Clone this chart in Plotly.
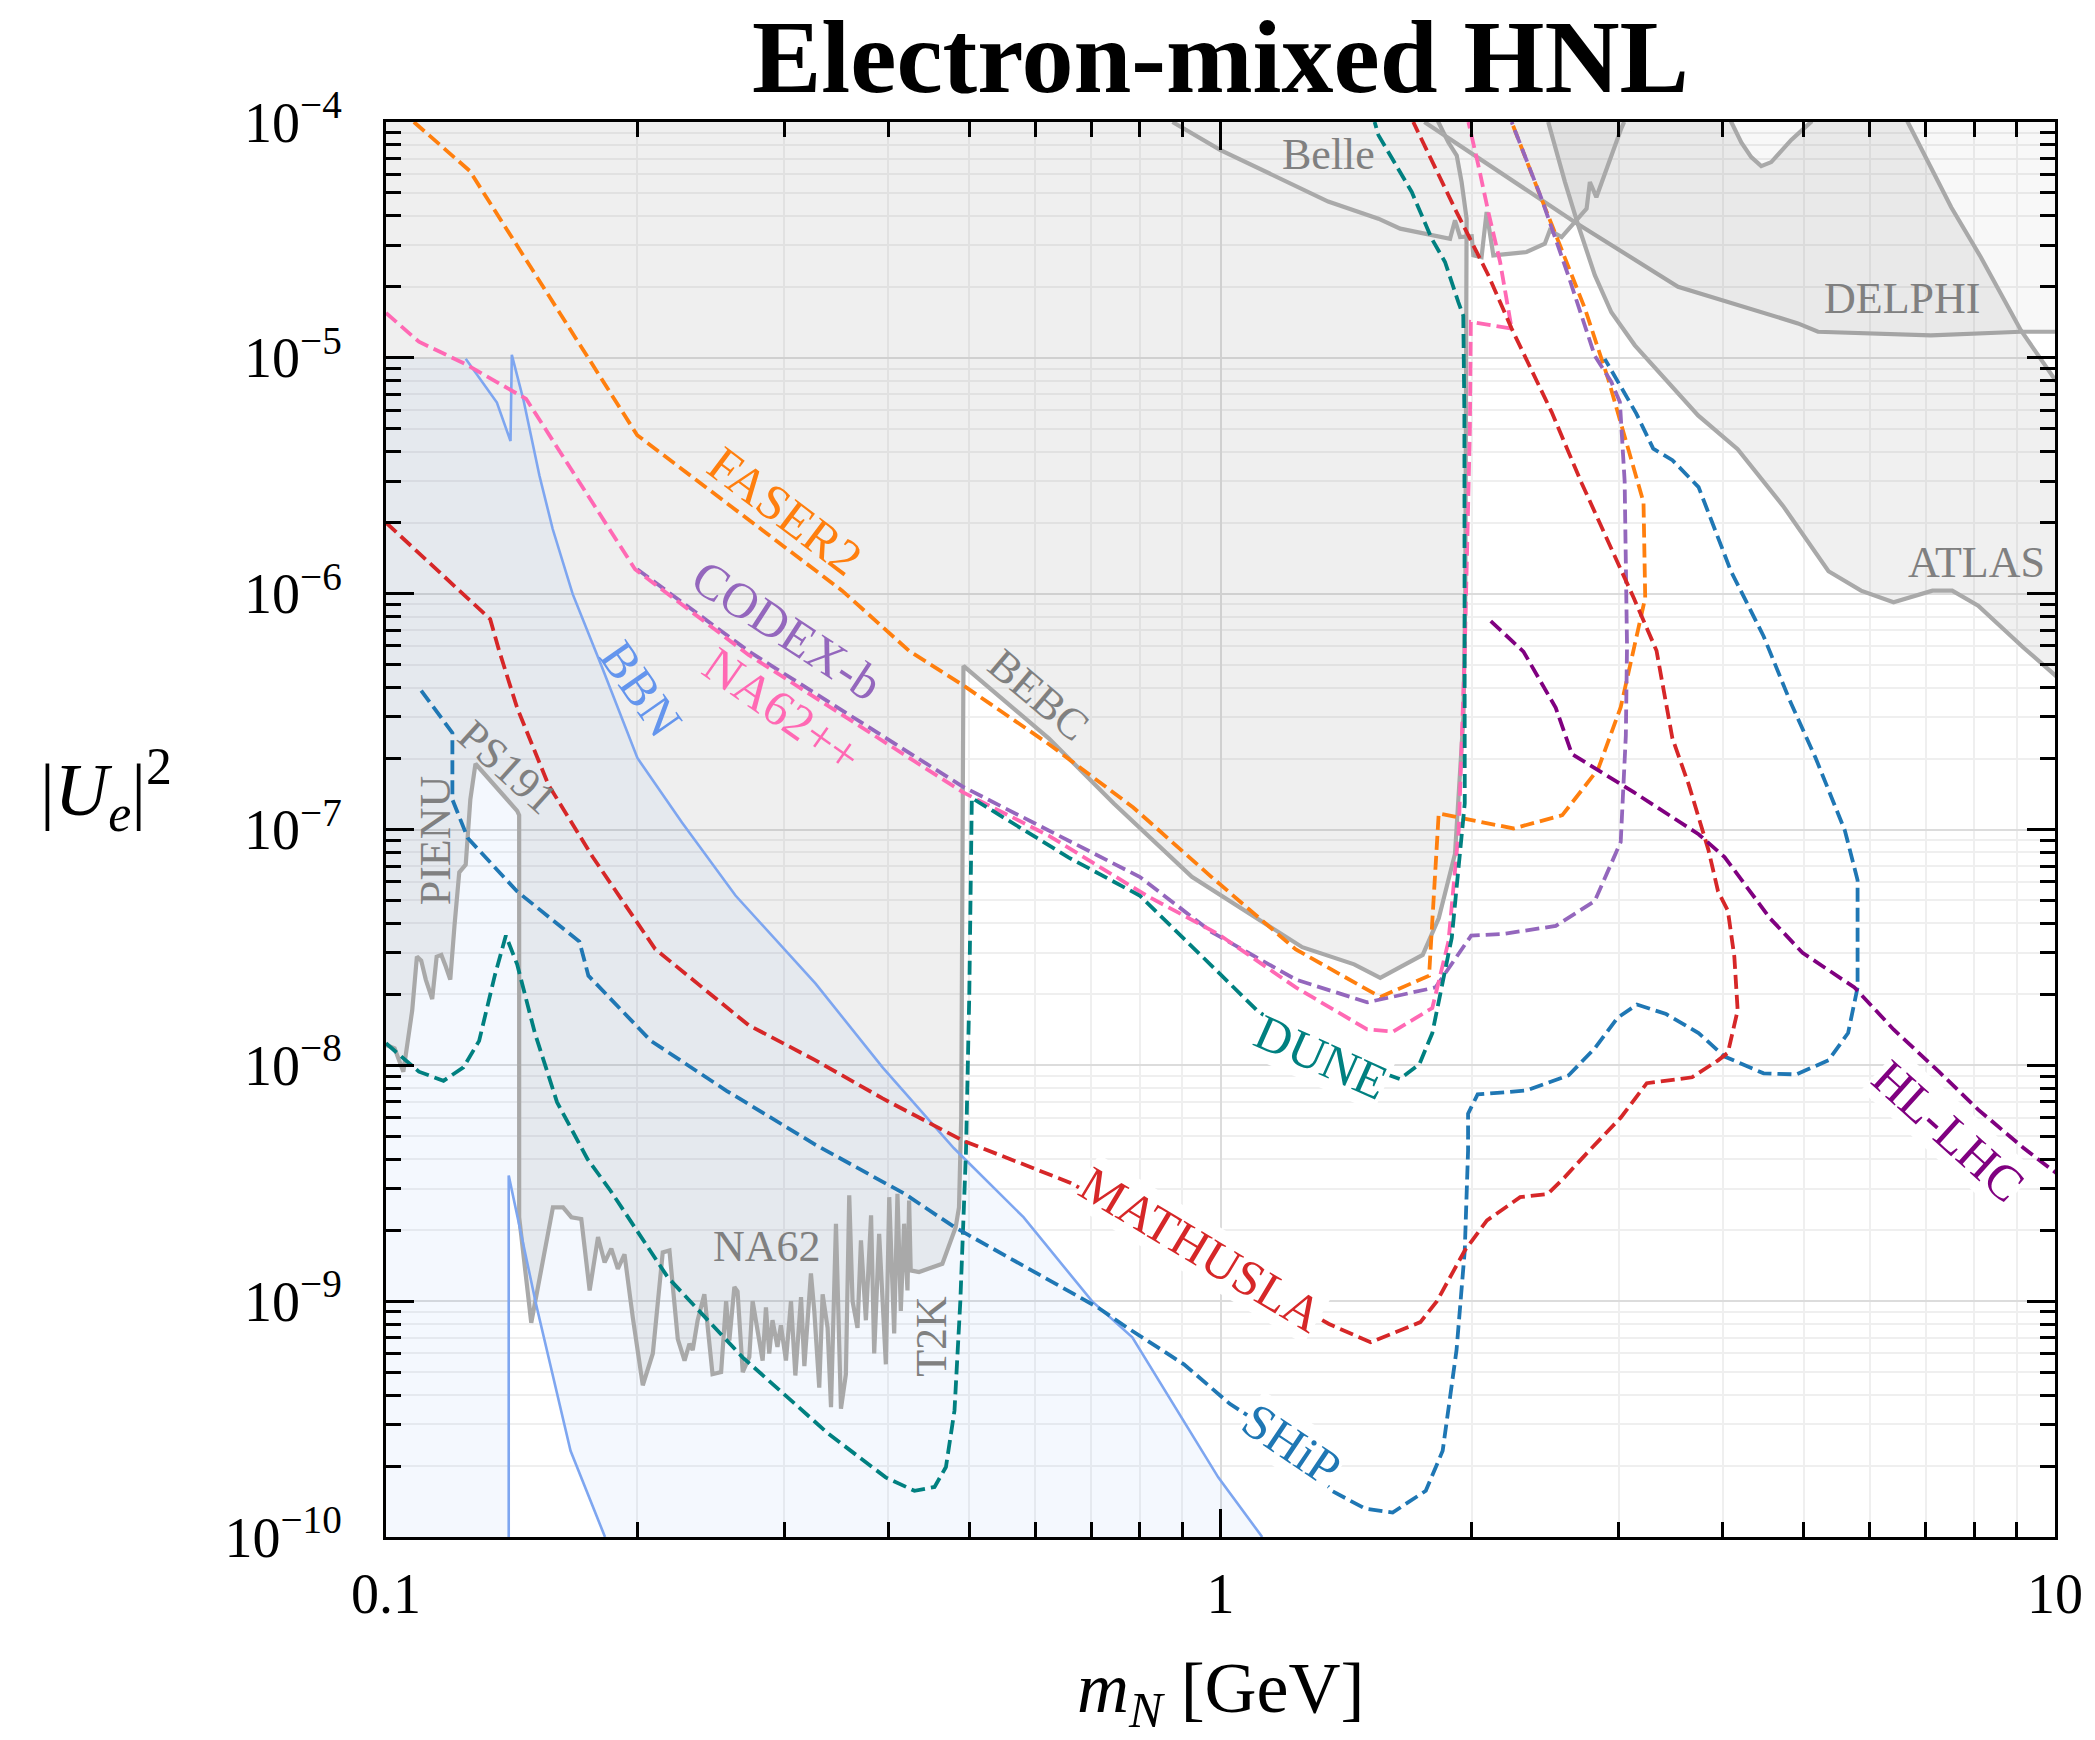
import numpy as np
import plotly.graph_objects as go

# ---------------- data: heavy neutral lepton mass m_N [GeV] and |U_e|^2 ----------------
# projected sensitivities (dashed)
FASER2_m = [0.108, 0.126, 0.2, 0.352, 0.424, 0.491, 0.623, 0.786, 0.975, 1.231, 1.554, 1.778, 1.826,
            2.244, 2.568, 2.834, 3.017, 3.155, 3.228, 3.213, 2.968, 2.914, 2.733, 2.54, 2.381, 2.233]
FASER2_U = [1e-4, 6.2e-5, 4.7e-6, 1.03e-6, 5.7e-7, 4.1e-7, 2.3e-7, 1.24e-7, 6.3e-8, 3.1e-8, 1.95e-8, 2.4e-8, 1.17e-7,
            1.01e-7, 1.15e-7, 1.8e-7, 3.3e-7, 6.6e-7, 9.6e-7, 2.44e-6, 6.5e-6, 8.15e-6, 1.62e-5, 3.1e-5, 5.56e-5, 1e-4]

CODEXB_m = [0.2, 0.272, 0.491, 0.623, 0.80, 0.975, 1.231, 1.499, 1.81, 1.997, 2.185, 2.522, 2.808, 3.017,
            3.06, 3.07, 3.05, 3.01, 2.94, 2.809, 2.61, 2.425, 2.233]
CODEXB_U = [1.27e-6, 5.7e-7, 1.52e-7, 9.9e-8, 6.3e-8, 3.68e-8, 2.31e-8, 1.85e-8, 2.14e-8, 3.55e-8, 3.61e-8, 3.9e-8,
            4.97e-8, 8.85e-8, 2.5e-7, 6e-7, 3e-6, 6.5e-6, 7.9e-6, 1.02e-5, 2.24e-5, 4.73e-5, 1e-4]

NA62PP_m = [0.1, 0.1095, 0.1246, 0.1472, 0.1988, 0.272, 0.491, 0.623, 0.815, 0.993, 1.231, 1.499, 1.61, 1.794,
            1.876, 1.93, 1.962, 1.99, 1.995, 2.233, 2.163, 2.094, 2.037, 1.982]
NA62PP_U = [1.55e-5, 1.17e-5, 9.4e-6, 6.7e-6, 1.27e-6, 5.5e-7, 1.44e-7, 9.4e-8, 5.25e-8, 3.61e-8, 2.14e-8, 1.42e-8,
            1.39e-8, 1.75e-8, 3.36e-8, 1e-7, 5.7e-7, 5e-6, 1.42e-5, 1.33e-5, 2.55e-5, 4.15e-5, 6.55e-5, 1e-4]

DUNE_m = [0.1, 0.1095, 0.1172, 0.1238, 0.1293, 0.135, 0.1392, 0.1436, 0.1508, 0.1603, 0.1744, 0.1858, 0.2177,
          0.2675, 0.339, 0.397, 0.4298, 0.4543, 0.4688, 0.48, 0.4878, 0.4955, 0.5, 0.5035, 0.658, 0.80, 0.993,
          1.106, 1.157, 1.32, 1.526, 1.64, 1.731, 1.794, 1.893, 1.962, 1.96, 1.954, 1.928, 1.858, 1.791, 1.695,
          1.546, 1.53]
DUNE_U = [1.24e-8, 9.4e-9, 8.6e-9, 9.8e-9, 1.27e-8, 2.4e-8, 3.55e-8, 2.68e-8, 1.37e-8, 6.98e-9, 4.0e-9, 2.94e-9,
          1.26e-9, 5.78e-10, 2.74e-10, 1.79e-10, 1.57e-10, 1.63e-10, 1.98e-10, 3.44e-10, 1.0e-9, 4.35e-9, 2e-8,
          1.36e-7, 7.6e-8, 5.25e-8, 2.49e-8, 1.71e-8, 1.53e-8, 1.18e-8, 9.6e-9, 8.75e-9, 1.01e-8, 1.37e-8, 3.48e-8,
          1.29e-7, 5.7e-6, 1.51e-5, 1.72e-5, 2.55e-5, 3.2e-5, 5.05e-5, 8.8e-5, 1e-4]

SHIP_m = [0.1102, 0.1201, 0.1201, 0.1253, 0.1436, 0.1705, 0.1748, 0.2077, 0.2559, 0.3272, 0.4184, 0.48, 0.7129,
          0.7717, 0.904, 1.026, 1.217, 1.359, 1.49, 1.608, 1.762, 1.846, 1.918, 1.962, 1.98, 1.98, 2.033, 2.326,
          2.614, 2.808, 2.99, 3.155, 3.42, 3.74, 4.018, 4.475, 4.895, 5.353, 5.65, 5.80, 5.80, 5.60, 5.166, 4.81,
          4.475, 4.09, 3.74, 3.48, 3.30, 3.15, 2.887]
SHIP_U = [3.88e-7, 2.57e-7, 1.34e-7, 9.2e-8, 5.46e-8, 3.35e-8, 2.4e-8, 1.27e-8, 7.8e-9, 4.6e-9, 2.85e-9, 2.06e-9,
          9.4e-10, 7.75e-10, 5.4e-10, 3.67e-10, 2.48e-10, 1.57e-10, 1.32e-10, 1.27e-10, 1.57e-10, 2.32e-10, 6.2e-10,
          1.64e-9, 4.35e-9, 6.24e-9, 7.53e-9, 7.82e-9, 9.08e-9, 1.18e-8, 1.59e-8, 1.81e-8, 1.65e-8, 1.37e-8, 1.09e-8,
          9.25e-9, 9.15e-9, 1.05e-8, 1.37e-8, 2.14e-8, 6.1e-8, 9.9e-8, 2.01e-7, 3.53e-7, 6.6e-7, 1.245e-6, 2.83e-6,
          3.68e-6, 4.12e-6, 5.8e-6, 9.9e-6]

MATH_m = [0.1, 0.1333, 0.1367, 0.1436, 0.1565, 0.1769, 0.2102, 0.272, 0.3272, 0.3936, 0.491, 0.5904, 0.659, 0.946,
          1.349, 1.513, 1.736, 1.817, 1.962, 2.086, 2.286, 2.467, 2.584, 2.758, 3.017, 3.242, 3.674, 3.947, 4.055,
          4.166, 4.128, 4.055, 3.947, 3.843, 3.64, 3.48, 3.33, 3.127, 2.709, 2.493, 2.233, 2.094, 1.91, 1.702]
MATH_U = [2e-6, 7.8e-7, 5.7e-7, 3.28e-7, 1.55e-7, 7.64e-8, 3.11e-8, 1.48e-8, 1.05e-8, 7.24e-9, 4.8e-9, 3.7e-9,
          3.19e-9, 1.62e-9, 8.0e-10, 6.7e-10, 8.15e-10, 1.0e-9, 1.64e-9, 2.2e-9, 2.76e-9, 2.85e-9, 3.35e-9, 4.3e-9,
          6.0e-9, 8.4e-9, 8.9e-9, 1.05e-8, 1.13e-8, 1.71e-8, 2.89e-8, 4.53e-8, 5.46e-8, 8.2e-8, 1.55e-7, 2.43e-7,
          5.74e-7, 9.6e-7, 2.94e-6, 5.9e-6, 1.33e-5, 2.24e-5, 4.28e-5, 1e-4]

HLLHC_m = [2.108, 2.307, 2.522, 2.637, 3.127, 3.74, 4.018, 4.556, 4.983, 5.75, 6.405, 7.26, 8.09, 9.17, 10.1]
HLLHC_U = [7.65e-7, 5.68e-7, 3.28e-7, 2.09e-7, 1.44e-7, 9.55e-8, 7.64e-8, 4.2e-8, 3.0e-8, 2.14e-8, 1.42e-8,
           9.4e-9, 6.49e-9, 4.46e-9, 3.43e-9]

# BBN
BBN1_m = [0.1246, 0.1358, 0.141, 0.1415, 0.1462, 0.1527, 0.1584, 0.1674, 0.1814, 0.2001, 0.2263, 0.2623, 0.3272,
          0.3936, 0.479, 0.5806, 0.7015, 0.784, 0.9938, 1.122]
BBN1_U = [9.9e-6, 6.46e-6, 4.44e-6, 1.03e-5, 6.58e-6, 3.17e-6, 1.88e-6, 9.95e-7, 4.9e-7, 2.01e-7, 1.07e-7, 5.25e-8,
          2.22e-8, 9.8e-9, 4.46e-9, 2.27e-9, 1.0e-9, 7.03e-10, 1.79e-10, 1e-10]
BBN2_m = [0.1403, 0.1403, 0.1513, 0.1664, 0.183]
BBN2_U = [1e-10, 3.41e-9, 9.7e-10, 2.32e-10, 1e-10]

# existing constraints (solid grey)
PIENU_m = [0.1, 0.1024, 0.1049, 0.1075, 0.1089, 0.1102, 0.1116, 0.1136, 0.115, 0.1165, 0.1179, 0.1194, 0.1208,
           0.1224, 0.1246, 0.1262, 0.128]
PIENU_U = [1.22e-8, 1.18e-8, 9.4e-9, 1.71e-8, 2.89e-8, 2.78e-8, 2.31e-8, 1.91e-8, 2.89e-8, 2.94e-8, 2.63e-8,
           2.31e-8, 3.9e-8, 6.58e-8, 7.1e-8, 1.34e-7, 1.9e-7]
PS191_m = [0.128, 0.1436, 0.1444, 0.1444]
PS191_U = [1.9e-7, 1.2e-7, 1.15e-7, 2.27e-9]
NA62_m = [0.1493, 0.1585, 0.163, 0.1668, 0.1714, 0.1754, 0.1795, 0.1828, 0.1862, 0.1896, 0.1931, 0.1976, 0.2031,
          0.2088, 0.2146, 0.2186, 0.2237, 0.2279, 0.231, 0.2331, 0.2363, 0.2407, 0.2462, 0.2521, 0.2556, 0.2579,
          0.2615, 0.2638, 0.2676, 0.2725, 0.275, 0.2788, 0.2827, 0.2853, 0.2879, 0.2905, 0.2945, 0.2973, 0.3015,
          0.3057, 0.3094, 0.3143, 0.3172, 0.323, 0.326, 0.3305, 0.3336, 0.3382, 0.3414, 0.3461, 0.3509, 0.3557,
          0.359, 0.3623, 0.3673, 0.3708, 0.3759, 0.3813, 0.3846, 0.3899, 0.3945, 0.3972, 0.4009, 0.4064, 0.4101,
          0.4139, 0.4177, 0.4216, 0.4235, 0.4254]
NA62_U = [8.1e-10, 2.5e-9, 2.5e-9, 2.27e-9, 2.23e-9, 1.11e-9, 1.87e-9, 1.46e-9, 1.67e-9, 1.37e-9, 1.58e-9, 8.5e-10,
          4.4e-10, 6.0e-10, 1.61e-9, 1.64e-9, 6.9e-10, 5.6e-10, 6.6e-10, 6.2e-10, 8.3e-10, 1.07e-9, 4.9e-10, 5.0e-10,
          1.0e-9, 6.8e-10, 1.15e-9, 1.1e-9, 5.0e-10, 5.8e-10, 1.0e-9, 7.7e-10, 5.6e-10, 9.4e-10, 6.0e-10, 8.3e-10,
          6.4e-10, 7.9e-10, 5.6e-10, 1.0e-9, 4.84e-10, 1.04e-9, 5.3e-10, 1.31e-9, 9.1e-10, 4.3e-10, 1.07e-9, 7.7e-10,
          3.55e-10, 2.13e-9, 3.5e-10, 4.9e-10, 2.81e-9, 1.0e-9, 7.7e-10, 1.81e-9, 8.3e-10, 2.31e-9, 6.0e-10, 1.93e-9,
          8.0e-10, 5.4e-10, 2.76e-9, 7.3e-10, 2.85e-9, 9.1e-10, 2.13e-9, 1.11e-9, 2.67e-9, 1.35e-9]
T2K_m = [0.4254, 0.4352, 0.4642, 0.4816, 0.486, 0.489, 0.4905, 0.492]
T2K_U = [1.35e-9, 1.33e-9, 1.44e-9, 2.06e-9, 2.5e-9, 6e-9, 3e-8, 4.94e-7]
BEBC_m = [0.492, 0.623, 0.745, 0.924, 1.106, 1.253, 1.446, 1.554, 1.747, 1.826, 1.91, 1.955, 1.965, 1.972, 1.972,
          1.945, 1.919, 1.875, 1.824]
BEBC_U = [4.94e-7, 2.43e-7, 1.29e-7, 6.3e-8, 4.2e-8, 3.17e-8, 2.68e-8, 2.35e-8, 2.94e-8, 4.2e-8, 7.9e-8, 3e-7,
          1e-6, 1e-5, 3.89e-5, 5.56e-5, 7.2e-5, 8.2e-5, 1e-4]
BELLE_m = [0.876, 1.0, 1.346, 1.546, 1.642, 1.884, 1.910, 1.937, 2.0, 2.009, 2.055, 2.084, 2.123, 2.327, 2.447,
           2.481, 2.563, 2.746, 2.771, 2.821, 3.022, 3.046]
BELLE_U = [1e-4, 7.6e-5, 4.6e-5, 3.89e-5, 3.53e-5, 3.2e-5, 3.83e-5, 3.25e-5, 3.28e-5, 2.72e-5, 2.67e-5, 4.15e-5,
           2.72e-5, 2.81e-5, 3.05e-5, 3.47e-5, 3.25e-5, 4.29e-5, 5.56e-5, 4.8e-5, 9.4e-5, 1e-4]
DELPHI_m = [1.755, 2.659, 3.534, 4.92, 5.20, 7.10, 9.10, 10.07]
DELPHI_U = [1e-4, 3.76e-5, 2.0e-5, 1.4e-5, 1.29e-5, 1.245e-5, 1.29e-5, 1.29e-5]
ATLAS_lo_m = [2.47, 2.587, 2.684, 2.809, 2.94, 3.137, 3.735, 4.166, 4.724, 5.353, 5.855, 6.405, 7.13, 7.53, 8.09,
              9.17, 10.35]
ATLAS_lo_U = [1e-4, 5.56e-5, 3.64e-5, 2.24e-5, 1.56e-5, 1.13e-5, 5.7e-6, 4.1e-6, 2.35e-6, 1.245e-6, 1.03e-6,
              9.2e-7, 1.03e-6, 1.03e-6, 8.9e-7, 5.9e-7, 4.06e-7]
ATLAS_dip_m = [4.093, 4.208, 4.325, 4.446, 4.571, 4.83, 5.10]
ATLAS_dip_U = [1e-4, 8.2e-5, 7.1e-5, 6.5e-5, 6.76e-5, 8.4e-5, 1e-4]
ATLAS_hi_m = [6.66, 7.04, 7.51, 8.15, 9.10, 10.07]
ATLAS_hi_U = [1e-4, 6.8e-5, 4.35e-5, 2.67e-5, 1.31e-5, 7.8e-6]

X_TICKS = [0.1, 1, 10]
X_TICKTEXT = ["0.1", "1", "10"]
Y_TICKS = [1e-10, 1e-9, 1e-8, 1e-7, 1e-6, 1e-5, 1e-4]
Y_TICKTEXT = ["10<sup>\u2212%d</sup>" % k for k in range(10, 3, -1)]

# ---------------- styling ----------------
FONT = "Liberation Serif"
GRAY_LINE = "#a9a9a9"
GRAY_TXT = "#808080"
DASH = "14px,6px"
LW_GRAY = 4.2
LW_DASH = 3.8
M_LO, M_HI = 0.08, 12.0     # off-axis closing points for filled regions
U_LO, U_HI = 5e-11, 2e-4

fig = go.Figure()


def poly(xs, ys, fillcolor, lw=0.0):
    fig.add_trace(go.Scatter(x=xs, y=ys, mode="lines", fill="toself", fillcolor=fillcolor,
                             line=dict(width=lw, color=GRAY_LINE), hoverinfo="skip"))


def line(xs, ys, color, width, dash=None):
    fig.add_trace(go.Scatter(x=xs, y=ys, mode="lines", hoverinfo="skip",
                             line=dict(color=color, width=width, dash=dash)))


# BBN excluded region (light blue), with the allowed pocket
poly([M_LO] + BBN1_m + [1.2, 0.19] + BBN2_m[::-1] + [BBN2_m[0], M_LO],
     [1e-5] + BBN1_U + [U_LO, U_LO] + BBN2_U[::-1] + [U_LO, U_LO],
     "rgba(100,149,237,0.07)")

# main grey region: PIENU, PS191, NA62, T2K, BEBC
poly([M_LO, M_LO] + PIENU_m + PS191_m + NA62_m + T2K_m + BEBC_m + [BEBC_m[-1]],
     [U_HI, PIENU_U[0]] + PIENU_U + PS191_U + NA62_U + T2K_U + BEBC_U + [U_HI],
     "rgba(128,128,128,0.13)", LW_GRAY)

# Belle fill (part not already covered)
bel = [(m, u) for m, u in zip(BELLE_m, BELLE_U) if m >= 1.972]
top = [(m, u) for m, u in zip(BEBC_m, BEBC_U) if u > 3.5e-5]
poly([1.972] + [p[0] for p in bel] + [bel[-1][0], top[-1][0]] + [p[0] for p in top[::-1]],
     [3.27e-5] + [p[1] for p in bel] + [U_HI, U_HI] + [p[1] for p in top[::-1]],
     "rgba(128,128,128,0.08)")

# DELPHI
poly(DELPHI_m + [M_HI, M_HI, DELPHI_m[0]], DELPHI_U + [DELPHI_U[-1], U_HI, U_HI],
     "rgba(128,128,128,0.055)", LW_GRAY)

# ATLAS band
poly(ATLAS_lo_m + [M_HI, M_HI] + ATLAS_hi_m[::-1] + [ATLAS_hi_m[0], ATLAS_dip_m[-1]] + ATLAS_dip_m[::-1]
     + [ATLAS_dip_m[0], ATLAS_lo_m[0]],
     ATLAS_lo_U + [ATLAS_lo_U[-1], ATLAS_hi_U[-1]] + ATLAS_hi_U[::-1] + [U_HI, U_HI] + ATLAS_dip_U[::-1]
     + [U_HI, U_HI],
     "rgba(128,128,128,0.12)", LW_GRAY)

line(BELLE_m, BELLE_U, GRAY_LINE, LW_GRAY)

# BBN lines
line(BBN1_m, BBN1_U, "#7ea6f0", 2.6)
line(BBN2_m, BBN2_U, "#7ea6f0", 2.6)

# sensitivities
line(FASER2_m, FASER2_U, "#ff7f0e", LW_DASH, DASH)
line(CODEXB_m, CODEXB_U, "#9467bd", LW_DASH, DASH)
line(NA62PP_m, NA62PP_U, "#ff69b4", LW_DASH, DASH)
line(DUNE_m, DUNE_U, "#008080", LW_DASH, DASH)
line(SHIP_m, SHIP_U, "#1f77b4", LW_DASH, DASH)
line(MATH_m, MATH_U, "#d62728", LW_DASH, DASH)
line(HLLHC_m, HLLHC_U, "#800080", LW_DASH, DASH)

# ---------------- labels ----------------
LABELS = [
    # text, m, U, angle, color, size, background
    ("FASER2", 0.301, 2.25e-6, 37, "#ff7f0e", 50, None),
    ("CODEX-b", 0.302, 7.0e-7, 33, "#9467bd", 50, None),
    ("NA62++", 0.2985, 3.2e-7, 35, "#ff69b4", 50, None),
    ("BBN", 0.2024, 3.96e-7, 55, "#6495ed", 50, None),
    ("DUNE", 1.322, 1.09e-8, 24, "#008080", 50, "white"),
    ("MATHUSLA", 0.947, 1.66e-9, 31, "#d62728", 50, "white"),
    ("SHiP", 1.217, 2.48e-10, 34, "#1f77b4", 50, "white"),
    ("HL-LHC", 7.46, 5.28e-9, 42, "#800080", 50, "white"),
    ("PS191", 0.14, 1.83e-7, 42, GRAY_TXT, 44, None),
    ("PIENU", 0.1147, 8.97e-8, -90, GRAY_TXT, 44, None),
    ("BEBC", 0.606, 3.7e-7, 40, GRAY_TXT, 44, None),
    ("Belle", 1.346, 7.3e-5, 0, GRAY_TXT, 44, None),
    ("DELPHI", 6.55, 1.78e-5, 0, GRAY_TXT, 44, None),
    ("ATLAS", 8.05, 1.355e-6, 0, GRAY_TXT, 44, None),
    ("NA62", 0.286, 1.7e-9, 0, GRAY_TXT, 44, None),
    ("T2K", 0.4506, 7.1e-10, -90, GRAY_TXT, 44, None),
]
for txt, m, u, ang, col, sz, bg in LABELS:
    fig.add_annotation(x=np.log10(m), y=np.log10(u), xref="x", yref="y", text=txt, showarrow=False,
                       textangle=ang, xanchor="center", yanchor="middle", borderpad=0,
                       bgcolor=bg if bg else "rgba(0,0,0,0)",
                       font=dict(family=FONT, size=sz, color=col))

fig.add_annotation(x=0.5, y=1.046, xref="paper", yref="paper", text="<b>Electron-mixed HNL</b>",
                   showarrow=False, xanchor="center", yanchor="middle",
                   font=dict(family=FONT, size=104, color="black"))
fig.add_annotation(x=0.5, y=-0.11, xref="paper", yref="paper", text="<i>m</i><sub><i>N</i></sub> [GeV]",
                   showarrow=False, xanchor="center", yanchor="middle",
                   font=dict(family=FONT, size=72, color="black"))
fig.add_annotation(x=-0.1676, y=0.528, xref="paper", yref="paper",
                   text="|<i>U</i><sub><i>e</i></sub>|<sup>2</sup>",
                   showarrow=False, xanchor="center", yanchor="middle",
                   font=dict(family=FONT, size=74, color="black"))

minor_x = [k * 10.0 ** e for e in (-1, 0) for k in range(2, 10)]
minor_y = [k * 10.0 ** e for e in range(-10, -4) for k in range(2, 10)]

common = dict(type="log", showline=True, linewidth=3, linecolor="black", mirror="allticks",
              ticks="inside", ticklen=28, tickwidth=3, tickcolor="black", tickmode="array",
              showgrid=True, gridcolor="#dcdcdc", gridwidth=2, zeroline=False,
              tickfont=dict(family=FONT, size=56, color="black"))
fig.update_xaxes(range=[-1, 1], tickvals=X_TICKS, ticktext=X_TICKTEXT, ticklabelstandoff=6,
                 minor=dict(tickmode="array", tickvals=minor_x, ticks="inside", ticklen=15, tickwidth=2.5,
                            tickcolor="black", showgrid=True, gridcolor="#efefef", gridwidth=1.5),
                 **common)
fig.update_yaxes(range=[-10, -4], tickvals=Y_TICKS, ticktext=Y_TICKTEXT, ticklabelstandoff=30,
                 minor=dict(tickmode="array", tickvals=minor_y, ticks="inside", ticklen=15, tickwidth=2.5,
                            tickcolor="black", showgrid=True, gridcolor="#efefef", gridwidth=1.5),
                 **common)

fig.update_layout(width=2095, height=1740, margin=dict(l=386, r=38, t=122, b=203),
                  paper_bgcolor="white", plot_bgcolor="white", showlegend=False,
                  font=dict(family=FONT, color="black"))

fig.write_html("out.html")
